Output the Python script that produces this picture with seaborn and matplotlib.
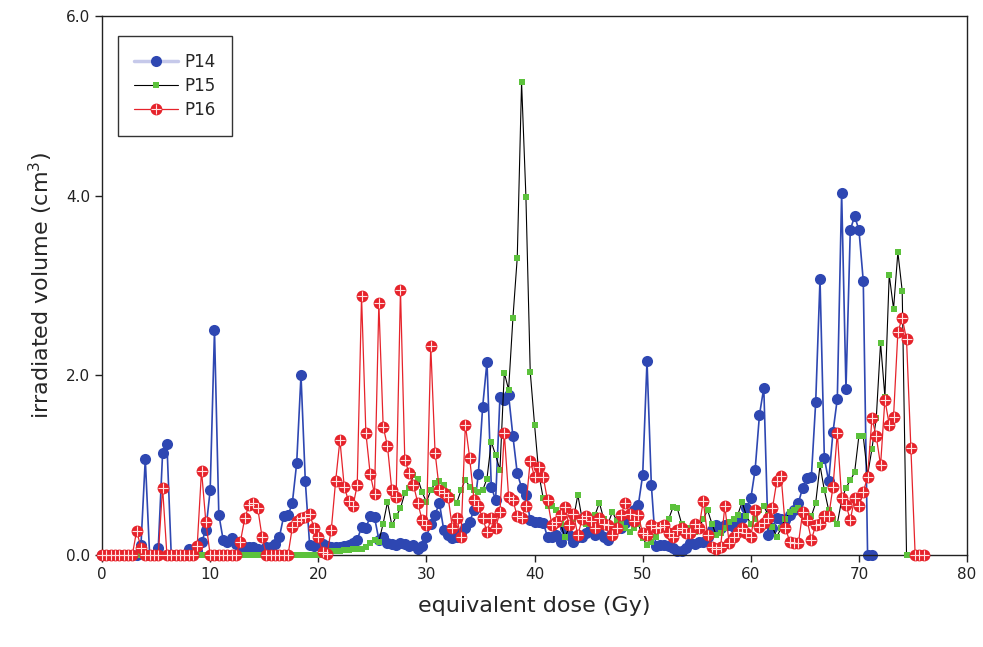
import numpy as np
import matplotlib
import matplotlib.pyplot as plt
import seaborn as sns
from matplotlib.lines import Line2D
from matplotlib.legend_handler import HandlerTuple
from matplotlib.ticker import FormatStrFormatter, MultipleLocator

matplotlib.use('Agg')

# dose bins are 0.4 Gy wide, every series starts at 0 Gy
dose_step = 0.4

p14_volume = [
    0, 0, 0, 0, 0, 0, 0, 0, 0, 0.11,
    1.07, 0, 0, 0.08, 1.13, 1.24, 0, 0, 0, 0,
    0.07, 0.04, 0.05, 0.14, 0.28, 0.72, 2.5, 0.45, 0.17, 0.14,
    0.19, 0.12, 0.1, 0.09, 0.09, 0.09, 0.07, 0.06, 0.09, 0.09,
    0.12, 0.2, 0.43, 0.44, 0.58, 1.02, 2.0, 0.82, 0.11, 0.1,
    0.12, 0.12, 0.1, 0.09, 0.09, 0.09, 0.1, 0.11, 0.13, 0.17,
    0.31, 0.3, 0.43, 0.42, 0.17, 0.2, 0.13, 0.12, 0.11, 0.13,
    0.12, 0.1, 0.11, 0.07, 0.1, 0.2, 0.35, 0.45, 0.58, 0.28,
    0.22, 0.19, 0.2, 0.25, 0.3, 0.37, 0.5, 0.9, 1.65, 2.15,
    0.76, 0.61, 1.76, 1.72, 1.78, 1.32, 0.91, 0.75, 0.67, 0.39,
    0.37, 0.37, 0.36, 0.2, 0.2, 0.22, 0.15, 0.3, 0.22, 0.15,
    0.2, 0.2, 0.25, 0.3, 0.22, 0.25, 0.2, 0.17, 0.25, 0.3,
    0.3, 0.36, 0.45, 0.5, 0.56, 0.89, 2.16, 0.78, 0.1, 0.11,
    0.11, 0.1, 0.08, 0.05, 0.04, 0.08, 0.13, 0.12, 0.15, 0.15,
    0.2, 0.28, 0.33, 0.3, 0.33, 0.33, 0.31, 0.33, 0.41, 0.52,
    0.63, 0.95, 1.56, 1.86, 0.22, 0.3, 0.41, 0.4, 0.39, 0.45,
    0.5, 0.58, 0.75, 0.86, 0.87, 1.7, 3.07, 1.08, 0.82, 1.37,
    1.74, 4.03, 1.85, 3.62, 3.77, 3.62, 3.05, 0, 0,
]

p15_volume = [
    0, 0, 0, 0, 0, 0, 0, 0, 0, 0,
    0, 0, 0, 0, 0, 0, 0, 0, 0, 0,
    0, 0, 0, 0, 0, 0, 0, 0, 0, 0,
    0, 0, 0, 0, 0, 0, 0, 0, 0, 0,
    0, 0, 0, 0, 0, 0, 0, 0, 0, 0,
    0, 0, 0.02, 0.04, 0.04, 0.05, 0.06, 0.06, 0.07, 0.07,
    0.07, 0.09, 0.13, 0.17, 0.15, 0.35, 0.59, 0.33, 0.43, 0.52,
    0.69, 0.75, 0.89, 0.85, 0.7, 0.59, 0.72, 0.8, 0.82, 0.78,
    0.7, 0.65, 0.58, 0.72, 0.84, 0.76, 0.72, 0.7, 0.72, 0.85,
    1.26, 1.11, 0.95, 2.03, 1.84, 2.64, 3.31, 5.26, 3.99, 2.04,
    1.45, 0.9, 0.63, 0.55, 0.54, 0.5, 0.35, 0.2, 0.3, 0.4,
    0.67, 0.4, 0.35, 0.4, 0.45, 0.58, 0.4, 0.35, 0.48, 0.38,
    0.35, 0.3, 0.26, 0.3, 0.35, 0.19, 0.11, 0.15, 0.2, 0.3,
    0.35, 0.4, 0.53, 0.52, 0.35, 0.3, 0.3, 0.26, 0.3, 0.4,
    0.5, 0.35, 0.22, 0.25, 0.3, 0.37, 0.4, 0.45, 0.59, 0.43,
    0.35, 0.4, 0.5, 0.54, 0.45, 0.31, 0.2, 0.3, 0.4, 0.48,
    0.5, 0.52, 0.45, 0.4, 0.43, 0.58, 1.0, 0.72, 0.5, 0.4,
    0.35, 0.61, 0.75, 0.83, 0.92, 1.33, 1.32, 0.89, 1.18, 1.52,
    2.36, 1.76, 3.12, 2.74, 3.37, 2.94, 0,
]

p16_volume = [
    0, 0, 0, 0, 0, 0, 0, 0, 0.27, 0.08,
    0, 0, 0, 0, 0.75, 0, 0, 0, 0, 0,
    0, 0, 0.1, 0.94, 0.37, 0, 0, 0, 0, 0,
    0, 0, 0.15, 0.41, 0.56, 0.58, 0.52, 0.2, 0, 0,
    0, 0, 0, 0, 0.31, 0.38, 0.41, 0.42, 0.46, 0.3,
    0.2, 0.03, 0.01, 0.28, 0.82, 1.28, 0.76, 0.6, 0.54, 0.78,
    2.88, 1.36, 0.9, 0.68, 2.8, 1.43, 1.21, 0.72, 0.65, 2.95,
    1.06, 0.91, 0.78, 0.58, 0.39, 0.33, 2.33, 1.14, 0.72, 0.69,
    0.65, 0.3, 0.41, 0.2, 1.45, 1.08, 0.61, 0.54, 0.41, 0.26,
    0.41, 0.3, 0.48, 1.36, 0.65, 0.61, 0.43, 0.41, 0.55, 1.05,
    0.87, 0.98, 0.87, 0.61, 0.33, 0.37, 0.45, 0.53, 0.33, 0.46,
    0.22, 0.4, 0.43, 0.38, 0.3, 0.41, 0.35, 0.33, 0.22, 0.3,
    0.45, 0.58, 0.46, 0.38, 0.44, 0.24, 0.22, 0.33, 0.3, 0.31,
    0.33, 0.25, 0.2, 0.28, 0.3, 0.25, 0.24, 0.35, 0.3, 0.6,
    0.22, 0.09, 0.07, 0.09, 0.54, 0.13, 0.2, 0.26, 0.3, 0.24,
    0.2, 0.5, 0.31, 0.36, 0.41, 0.52, 0.82, 0.88, 0.3, 0.15,
    0.13, 0.13, 0.48, 0.39, 0.17, 0.33, 0.35, 0.43, 0.43, 0.76,
    1.36, 0.63, 0.56, 0.39, 0.63, 0.54, 0.7, 0.87, 1.52, 1.32,
    1.0, 1.73, 1.45, 1.54, 2.48, 2.64, 2.4, 1.19, 0, 0,
    0,
]

labels = ['P14', 'P15', 'P16']

blue = '#2e47b2'
green = '#5cc23c'
red = '#e6232b'
cross = '#ffe2e2'


def dose_of(vol):
    return np.arange(len(vol)) * dose_step


sns.set_style('ticks')
plt.rcParams['font.family'] = ['DejaVu Sans']

fig = plt.figure(figsize=(9.83, 6.47), dpi=100)
ax = fig.add_axes([0.1038, 0.1422, 0.88, 0.8331])

sns.lineplot(x=dose_of(p14_volume), y=p14_volume, ax=ax, color=blue,
             linewidth=1.2, marker='o', markersize=8, markeredgewidth=0,
             markerfacecolor=blue, estimator=None, sort=False, legend=False,
             clip_on=False, zorder=2)
sns.lineplot(x=dose_of(p15_volume), y=p15_volume, ax=ax, color='black',
             linewidth=0.8, marker='s', markersize=5, markeredgewidth=0,
             markerfacecolor=green, estimator=None, sort=False, legend=False,
             clip_on=False, zorder=3)
sns.lineplot(x=dose_of(p16_volume), y=p16_volume, ax=ax, color=red,
             linewidth=0.9, marker='o', markersize=8.5, markeredgewidth=0,
             markerfacecolor=red, estimator=None, sort=False, legend=False,
             clip_on=False, zorder=4)
# the light cross highlight on the red markers
sns.scatterplot(x=dose_of(p16_volume), y=p16_volume, ax=ax, marker='+',
                s=52, color=cross, linewidth=0.8, legend=False,
                clip_on=False, zorder=5)

ax.set_xlim(0, 80)
ax.set_ylim(0, 6)
ax.xaxis.set_major_locator(MultipleLocator(10))
ax.yaxis.set_major_locator(MultipleLocator(2))
ax.yaxis.set_major_formatter(FormatStrFormatter('%.1f'))
ax.tick_params(direction='out', length=5, width=1, labelsize=11,
               colors='#222222')
for side in ['top', 'right', 'left', 'bottom']:
    ax.spines[side].set_visible(True)
    ax.spines[side].set_color('#222222')
    ax.spines[side].set_linewidth(1)

ax.set_xlabel('equivalent dose (Gy)', fontsize=16, labelpad=10)
ax.set_ylabel('irradiated volume (cm$^3$)', fontsize=16, labelpad=8)

h14 = Line2D([], [], color='#c6c9ea', linewidth=2.5, marker='o',
             markersize=8, markerfacecolor=blue, markeredgewidth=0)
h15 = Line2D([], [], color='black', linewidth=0.8, marker='s',
             markersize=5, markerfacecolor=green, markeredgewidth=0)
h16 = (Line2D([], [], color=red, linewidth=0.9, marker='o', markersize=8.5,
              markerfacecolor=red, markeredgewidth=0),
       Line2D([], [], linestyle='', marker='+', markersize=7,
              color=cross, markeredgewidth=0.8))
leg = ax.legend([h14, h15, h16], labels, loc='upper left',
                bbox_to_anchor=(0.018, 0.963), borderaxespad=0,
                fontsize=12, handlelength=2.6, handletextpad=0.4,
                labelspacing=0.38, borderpad=1.0, fancybox=False,
                framealpha=1, edgecolor='#333333',
                handler_map={tuple: HandlerTuple(ndivide=1)})
leg.get_frame().set_linewidth(1)

fig.savefig('out.png', dpi=100)
